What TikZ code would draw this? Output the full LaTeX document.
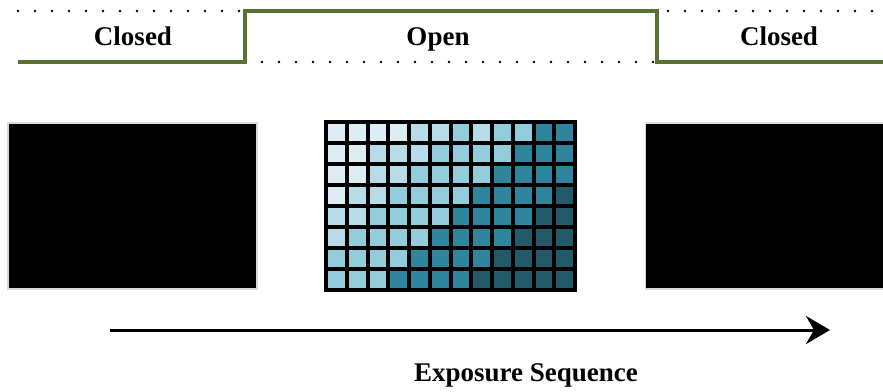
\documentclass[tikz,border=0pt]{standalone}
\usepackage{fontspec}
\setmainfont{Liberation Serif}
\usetikzlibrary{arrows.meta, positioning, calc}

\definecolor{lvA}{HTML}{DCEEF4}
\definecolor{lvB}{HTML}{B7DCE7}
\definecolor{lvC}{HTML}{93CDDC}
\definecolor{lvD}{HTML}{2F869C}
\definecolor{lvE}{HTML}{225A69}
\definecolor{shutter}{HTML}{5B7132}

\begin{document}
\begin{tikzpicture}[
	x=0.5pt, y=-0.5pt,
	label/.style={font=\fontsize{13.5}{16}\selectfont\bfseries, inner sep=0pt, anchor=base},
	frame/.style={rectangle, draw=black!15, fill=black, line width=0.6pt, inner sep=0pt, minimum width=124.5pt, minimum height=83pt},
	cell/.style={draw=black, line width=2pt},
	signal/.style={draw=shutter, line width=1.6pt},
	idle/.style={line width=1.4pt, line cap=round, dash pattern=on 0pt off 8.5pt},
	arrow/.style={-{Stealth[length=12pt, width=14pt, inset=4pt]}, line width=1.5pt}
]
\useasboundingbox (0,0) rectangle (883,391);

% Shutter state
\coordinate (S0) at (18,62);
\coordinate (S1) at (245,62);
\coordinate (S2) at (245,11);
\coordinate (S3) at (657,11);
\coordinate (S4) at (657,62);
\coordinate (S5) at (883,62);
\draw[signal] (S0) -- (S1) -- (S2) -- (S3) -- (S4) -- (S5);
\draw[idle] (18,11) -- (240,11);
\draw[idle] (262,62) -- (655,62);
\draw[idle] (668,11) -- (883,11);

\node[label] (closedA) at (133,45) {Closed};
\node[label] (open) at (438,45) {Open};
\node[label] (closedB) at (779,45) {Closed};

% Frames
\node[frame] (frameA) at (132.5,206) {};
\node[frame, minimum width=119pt, anchor=west] (frameB) at (645,206) {};

% Exposed frame
\foreach \row [count=\r] in {
	{A,A,A,A,B,B,C,B,C,C,D,D},
	{A,A,B,B,B,C,C,C,C,D,D,D},
	{A,A,B,B,C,C,C,C,D,D,D,D},
	{A,B,B,C,C,C,C,D,D,D,D,E},
	{B,B,C,C,C,C,D,D,D,D,E,E},
	{B,C,C,C,C,D,D,D,D,E,E,E},
	{C,C,C,C,D,D,D,D,E,E,E,E},
	{C,C,C,D,D,D,D,E,E,E,E,E}}
	\foreach \lv [count=\c] in \row
		\draw[cell, fill=lv\lv] ({326+(\c-1)*20.75},{122+(\r-1)*21}) rectangle ++(20.75,21);
\draw[line width=2.2pt] (326,122) rectangle (575,290);

% Time axis
\coordinate (T0) at (110,330);
\coordinate (T1) at (830,330);
\draw[arrow] (T0) -- (T1);
\node[label] (axis) at (526,381) {Exposure Sequence};
\end{tikzpicture}
\end{document}
